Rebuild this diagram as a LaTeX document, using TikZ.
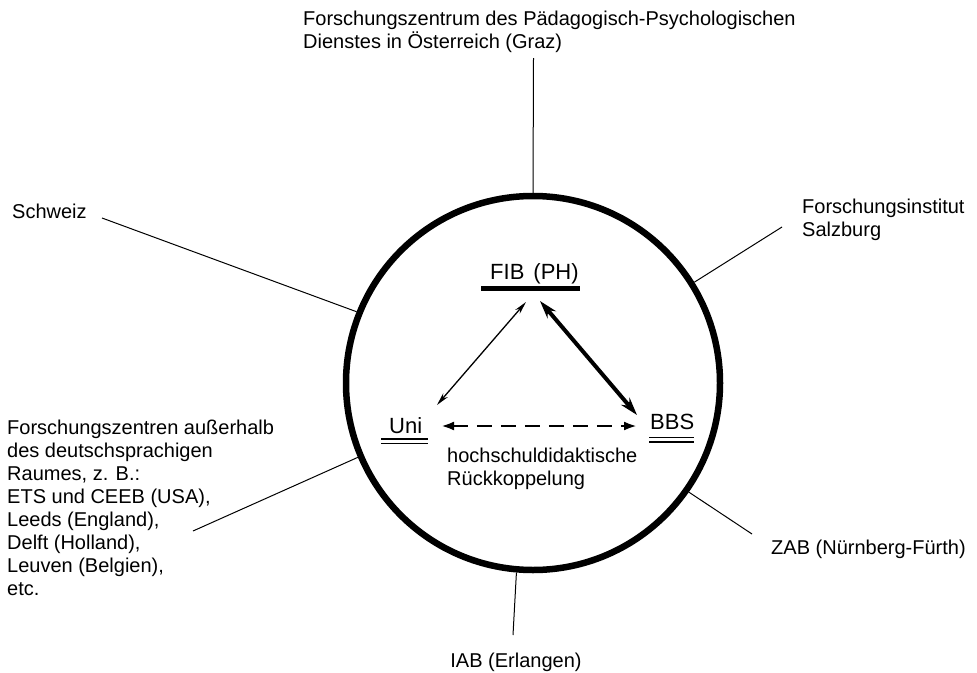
\documentclass[tikz,border=0pt]{standalone}
\usepackage{fontspec}
\setmainfont{Liberation Sans}
\usetikzlibrary{arrows.meta}
\begin{document}
\begin{tikzpicture}[x=1pt,y=-1pt,
  lbl/.style={inner sep=0pt, font=\fontsize{20}{23}\selectfont, align=left},
  ctr/.style={inner sep=0pt, font=\fontsize{22}{26}\selectfont},
  spoke/.style={line width=1pt},
  ring/.style={circle, draw, line width=6.5pt, minimum size=374pt, inner sep=0pt},
  thinarr/.style={line width=1.3pt, {Stealth[length=13pt,width=6pt]}-{Stealth[length=13pt,width=6pt]}},
  thickarr/.style={line width=4pt, {Stealth[length=18pt,width=11pt]}-{Stealth[length=18pt,width=11pt]}},
  dasharr/.style={line width=2.5pt, dash pattern=on 15pt off 9pt, {Latex[length=13pt,width=9pt]}-{Latex[length=13pt,width=9pt]}},
  ul/.style={line width=1.8pt},
  bar/.style={line width=5.5pt}
]
\useasboundingbox (0,0) rectangle (977,672);

% central ring
\node[ring] (ring) at (533,383) {};

% outer labels (multi-line nodes: base = baseline of last line)
\node[lbl, anchor=base west] (graz) at (303,48) {Forschungszentrum des Pädagogisch-Psychologischen\\Dienstes in Österreich (Graz)};
\node[lbl, anchor=base west] (schweiz) at (12,218) {Schweiz};
\node[lbl, anchor=base west] (salz) at (802,236) {Forschungsinstitut\\Salzburg};
\node[lbl, anchor=base west] (zab) at (771,554) {ZAB (Nürnberg-Fürth)};
\node[lbl, anchor=base] (iab) at (516,667) {IAB (Erlangen)};
\node[lbl, anchor=base west] (ausl) at (7,595) {Forschungszentren außerhalb\\des deutschsprachigen\\Raumes, z. B.:\\ETS und CEEB (USA),\\Leeds (England),\\Delft (Holland),\\Leuven (Belgien),\\etc.};

% spoke ends
\coordinate (sTop) at (533.5,58);
\coordinate (sSalz) at (782,227);
\coordinate (sZab) at (752,534);
\coordinate (sIab) at (513,635);
\coordinate (sAusl) at (193,531);
\coordinate (sSchw) at (102,218);

\draw[spoke] (ring.90) -- (sTop);
\draw[spoke] (ring.32.2) -- (sSalz);
\draw[spoke] (ring.-35.3) -- (sZab);
\draw[spoke] (ring.265.2) -- (sIab);
\draw[spoke] (ring.203.4) -- (sAusl);
\draw[spoke] (ring.158) -- (sSchw);

% inner labels
\node[ctr, anchor=base west] (fib) at (490,279) {FIB\hspace{9pt}(PH)};
\draw[bar] (481,288.5) -- (580,288.5);
\node[ctr, anchor=base west] (uni) at (389,433) {Uni};
\draw[ul] (381,439) -- (428,439);
\draw[ul] (381,443.5) -- (428,443.5);
\node[ctr, anchor=base west] (bbs) at (650,429) {BBS};
\draw[ul] (649,437.5) -- (694,437.5);
\draw[ul] (649,442) -- (694,442);
\node[lbl, anchor=base west] (rueck) at (447,485) {hochschuldidaktische\\Rückkoppelung};

% arrow ends
\coordinate (uniTop) at (437,405);
\coordinate (fibL) at (526,302);
\coordinate (fibR) at (540,301);
\coordinate (bbsTop) at (637,415);
\coordinate (uniR) at (441,426);
\coordinate (bbsL) at (637,426);

\draw[thinarr] (uniTop) -- (fibL);
\draw[thickarr] (fibR) -- (bbsTop);
\draw[dasharr] (uniR) -- (bbsL);
\end{tikzpicture}
\end{document}
